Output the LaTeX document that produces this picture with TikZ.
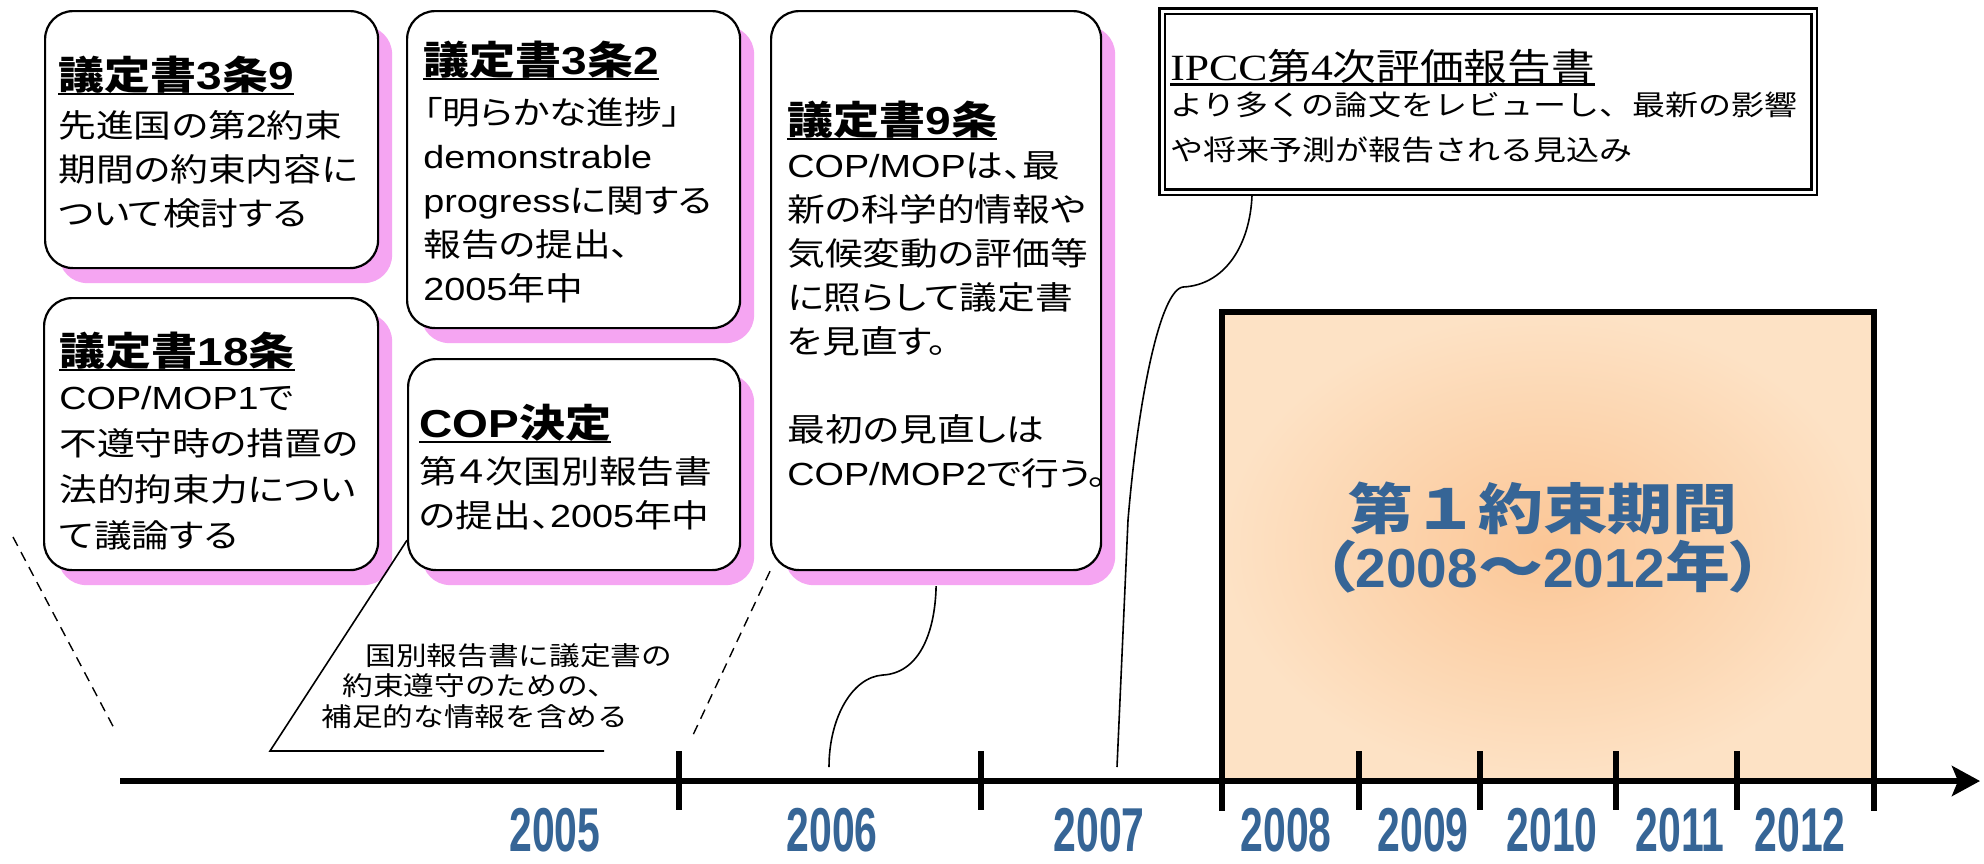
\documentclass[tikz,border=0pt]{standalone}
\usepackage{fontspec}
\setmainfont{Noto Sans CJK JP}[FakeStretch=1.18,RawFeature=+palt]
\newfontfamily\jmono{Noto Sans CJK JP}[FakeStretch=1.18]
\newfontfamily\lat{Liberation Sans}[FakeStretch=1.18]
\newfontfamily\latc{Liberation Sans}[FakeStretch=1.0]
\newfontfamily\latser{Liberation Serif}[FakeStretch=1.18]
\newfontfamily\yearf{Liberation Sans}[FakeStretch=0.66]
\usetikzlibrary{arrows.meta,calc,shadows}
\definecolor{shadowpink}{RGB}{245,165,242}
\definecolor{yearblue}{RGB}{54,101,150}
\definecolor{orangein}{RGB}{251,198,150}
\definecolor{orangeout}{RGB}{253,226,197}
\newsavebox\ulbox
\newcommand\myul[1]{\sbox\ulbox{#1}\rlap{\rule[-2.6pt]{\wd\ulbox}{1.2pt}}\usebox\ulbox}
\begin{document}
\begin{tikzpicture}[x=0.5pt,y=-0.5pt,
  pinkshadow/.style={drop shadow={shadow xshift=7pt,shadow yshift=-7.5pt,fill=shadowpink,opacity=1}},
  jbox/.style={draw=black,line width=1.1pt,fill=white,rounded corners=14pt,inner sep=0pt,anchor=north west,pinkshadow},
  ttl/.style={inner sep=0pt,anchor=north west,font=\fontsize{19.5pt}{23pt}\selectfont\bfseries},
  bdy/.style={inner sep=0pt,anchor=north west,align=left,font=\fontsize{16pt}{22pt}\selectfont},
  cline/.style={line width=0.8pt},
  dashline/.style={line width=0.7pt,dash pattern=on 5pt off 3.5pt},
  tickst/.style={line width=3pt},
  yr/.style={inner sep=0pt,text=yearblue,font=\yearf\bfseries\fontsize{31pt}{33pt}\selectfont}]
\fill[white] (0,0) rectangle (1984,863);
\useasboundingbox (0,0) rectangle (1984,863);

% rounded boxes
\node[jbox,minimum width=166.5pt,minimum height=128.5pt] (A) at (44,10) {};
\node[jbox,minimum width=167pt,minimum height=136pt] (D) at (43,297) {};
\node[jbox,minimum width=166.5pt,minimum height=158.5pt] (B) at (406,10) {};
\node[jbox,minimum width=166pt,minimum height=105.5pt] (E) at (407,358) {};
\node[jbox,minimum width=165pt,minimum height=279.5pt] (C) at (770,10) {};

\node[ttl] (At) at (58,56) {\myul{議定書{\lat 3}条{\lat 9}}};
\node[bdy] (Ab) at (58,110) {先進国の第{\lat 2}約束\\期間の約束内容に\\ついて検討する};
\node[ttl] (Bt) at (423,41) {\myul{議定書{\lat 3}条{\lat 2}}};
\node[bdy] (Bb) at (423,97) {「明らかな進捗」\\{\lat demonstrable}\\{\lat progress}に関する\\報告の提出、\\{\lat 2005}年中};
\node[ttl] (Ct) at (787,101) {\myul{議定書{\lat 9}条}};
\node[bdy] (Cb) at (787,151) {{\lat COP/MOP}は、最\\新の科学的情報や\\気候変動の評価等\\に照らして議定書\\を見直す。\\[22pt]最初の見直しは\\{\lat COP/MOP2}で行う。};
\node[ttl] (Dt) at (59,332) {\myul{議定書{\lat 18}条}};
\node[bdy,font=\fontsize{16pt}{23pt}\selectfont] (Db) at (59,386) {{\lat COP/MOP1}で\\不遵守時の措置の\\法的拘束力につい\\て議論する};
\node[ttl] (Et) at (419,404) {\myul{{\lat COP}決定}};
\node[bdy] (Eb) at (419,456) {第４次国別報告書\\の提出、{\lat 2005}年中};

% IPCC box
\node[draw=black,line width=1.2pt,double=white,double distance=1.5pt,fill=white,minimum width=326pt,minimum height=90.5pt,inner sep=0pt,anchor=north west] (I) at (1161,10) {};
\node[anchor=north west,inner sep=0pt,font=\jmono\fontsize{18.5pt}{22pt}\selectfont] (It) at (1170,49) {\myul{{\latser IPCC}第{\latser 4}次評価報告書}};
\node[anchor=north west,inner sep=0pt,align=left,font=\jmono\fontsize{14pt}{22.5pt}\selectfont] (Ib) at (1170,92) {より多くの論文をレビューし、最新の影響\\や将来予測が報告される見込み};

% first commitment period
\node[anchor=north west,inner sep=0pt,minimum width=325.5pt,minimum height=234.5pt,shade,inner color=orangein,outer color=orangeout] (O) at (1222,312) {};
\node[align=center,inner sep=0pt,text=yearblue,font=\bfseries\fontsize{27.5pt}{29pt}\selectfont] (Ot) at (1543,538) {{\jmono 第１約束期間}\\（{\latc 2008}～{\latc 2012}年）};
\draw[line width=3pt] ($(O.south west)+(0,29)$) -- (O.north west) -- (O.north east) -- ($(O.south east)+(0,29)$);

% timeline
\coordinate (T0) at (120,781);
\coordinate (T1) at (1980,781);
\foreach \x in {679,981,1359,1480,1616,1737} \draw[tickst] (\x,751) -- (\x,810);
\draw[line width=3pt,-{Stealth[length=14pt,width=15pt,inset=3pt]}] (T0) -- (T1);
\foreach \x/\yy in {555/2005,832/2006,1099/2007,1286/2008,1423/2009,1552/2010,1680/2011,1800/2012}
  \node[yr] (y\yy) at (\x,830) {\yy};

% dashed period lines
\coordinate (d1a) at (13,537);
\coordinate (d1b) at (115,730);
\coordinate (d2b) at (693,735);
\draw[dashline] (d1a) -- (d1b);
\draw[dashline] (C.south west) -- (d2b);

% callout of COP decision
\coordinate (e1) at (270,751);
\coordinate (e2) at (604,751);
\draw[cline] ($(E.south west)+(0,-31)$) -- (e1) -- (e2);
\node[anchor=north west,inner sep=0pt,align=left,font=\jmono\fontsize{13pt}{15.25pt}\selectfont] (Enote) at (321,643) {\hspace*{22pt}国別報告書に議定書の\\\hspace*{10.5pt}約束遵守のための、\\補足的な情報を含める};

% callout of article 9
\coordinate (cC) at (829,767);
\draw[cline] ($(C.south)+(0,15)$) .. controls (935,635) and (918,673) .. (883,675) .. controls (852,677) and (829,718) .. (cC);

% callout of IPCC
\coordinate (cI) at (1117,767);
\coordinate (cI2) at (1128,520);
\draw[cline] ($(I.south west)+(91,2)$) .. controls (1250,245) and (1225,285) .. (1183,287) .. controls (1160,290) and (1138,400) .. (cI2) -- (cI);
\end{tikzpicture}
\end{document}
